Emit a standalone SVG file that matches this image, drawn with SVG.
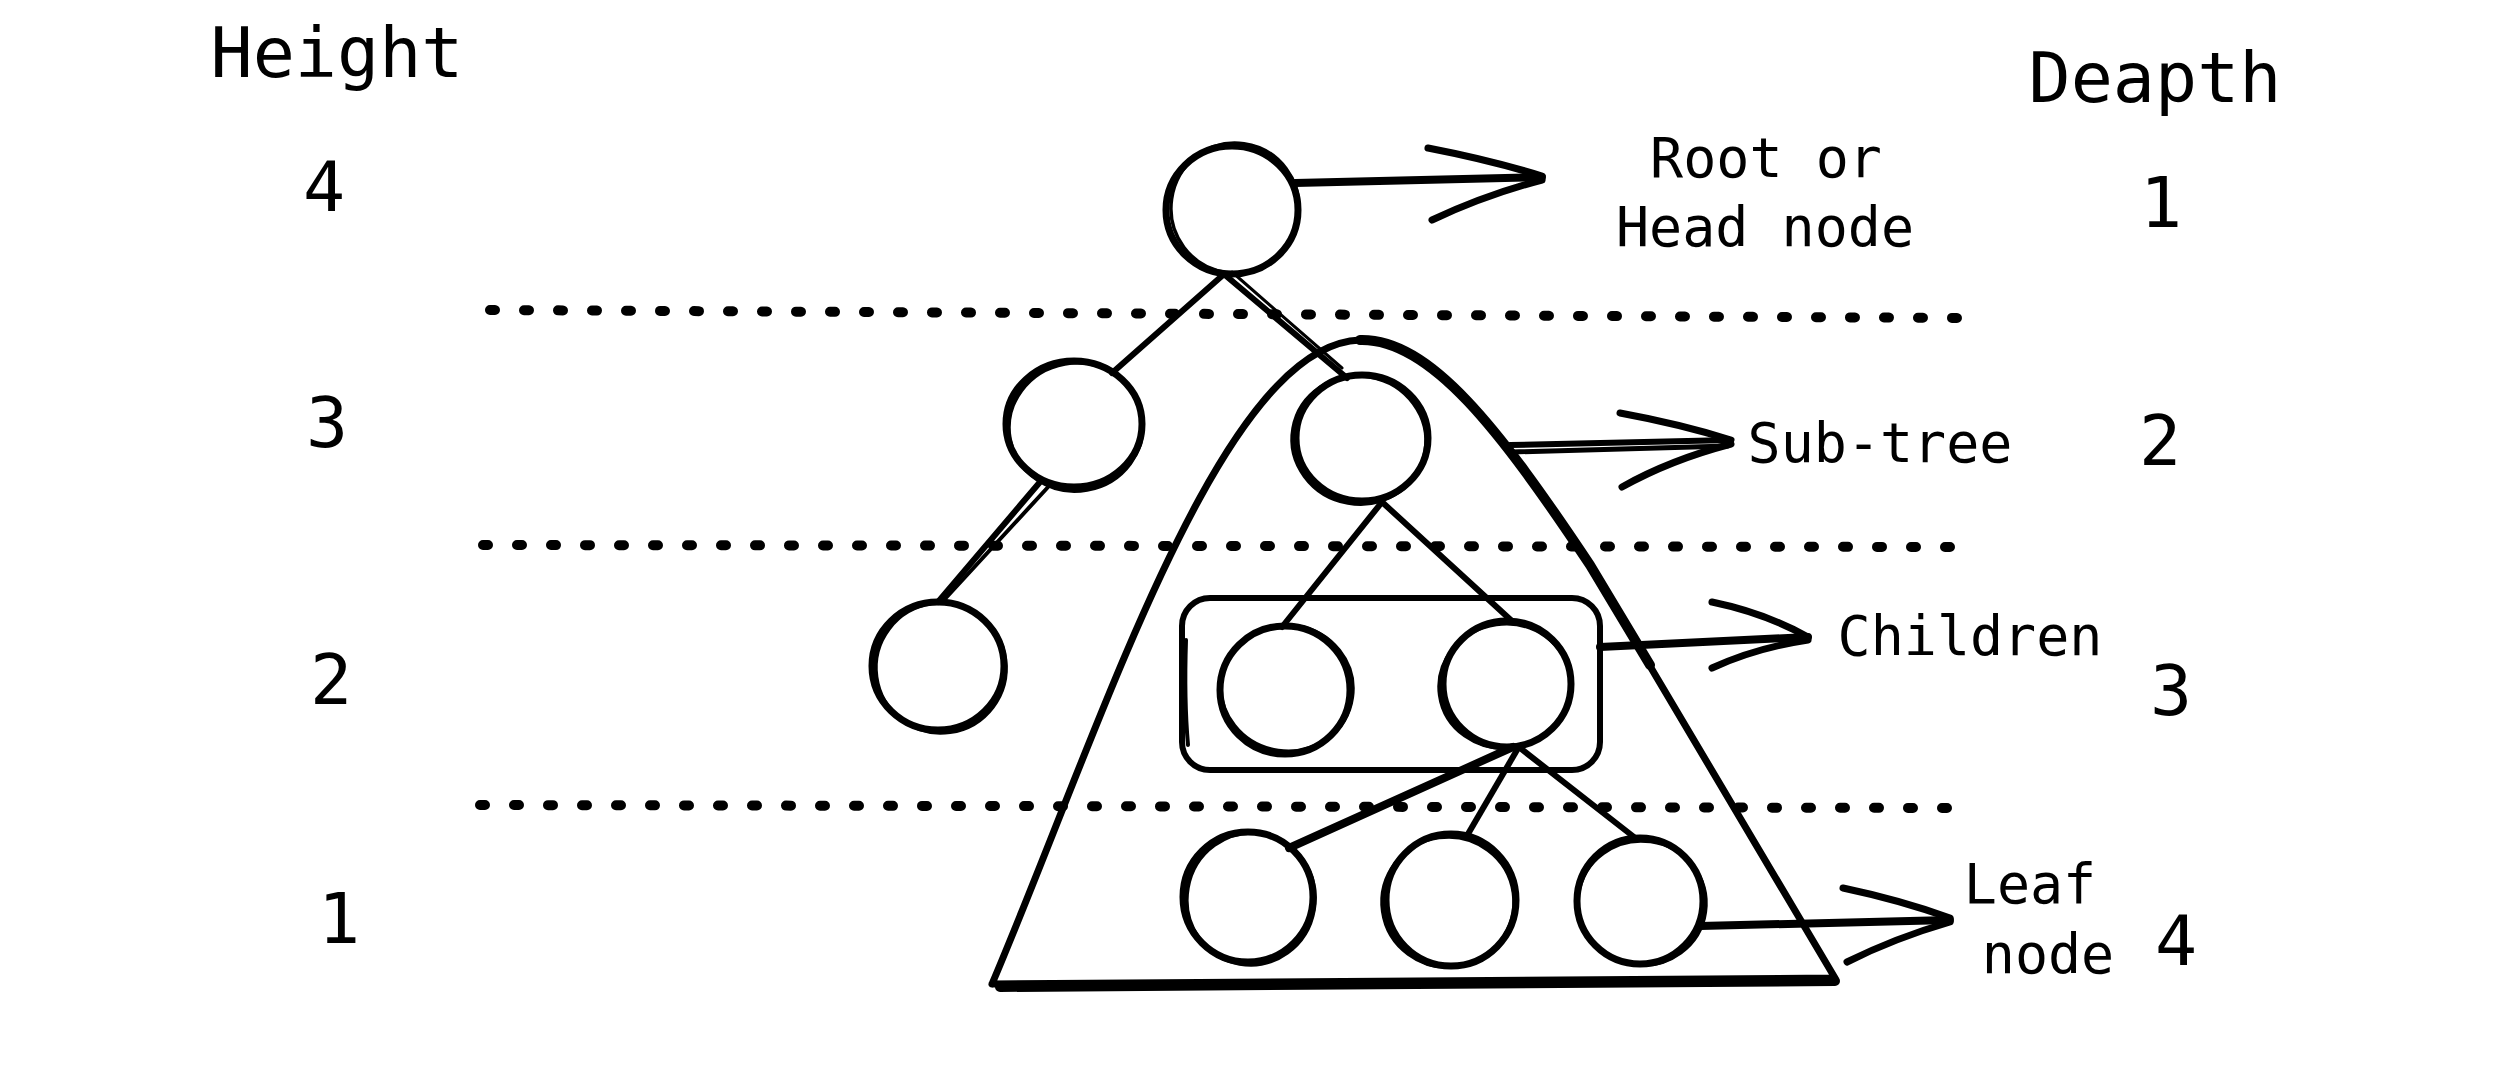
<svg xmlns="http://www.w3.org/2000/svg" width="2500" height="1070" viewBox="0 0 2500 1070">
<style>
.bg{fill:#fff}
.n{fill:none;stroke:#000;stroke-width:7}
.n2{fill:none;stroke:#000;stroke-width:3.5}
.e{fill:none;stroke:#000;stroke-width:6;stroke-linecap:round;stroke-linejoin:round}
.a{fill:none;stroke:#000;stroke-width:8;stroke-linecap:round;stroke-linejoin:round}
.dot{fill:none;stroke:#000;stroke-width:10;stroke-linecap:round;stroke-dasharray:5 29}
.t{font-family:"DejaVu Sans Mono",monospace;fill:#000;text-anchor:middle}
.big{font-size:70px}
.lbl{font-size:55px}
</style>
<rect class="bg" x="0" y="0" width="2500" height="1070"/>

<g id="level-lines">
<path class="dot" d="M490,310 L1965,318"/>
<path class="dot" d="M483,545 L1961,547"/>
<path class="dot" d="M480,805 L1955,808"/>
</g>

<g id="height-column">
<text class="t big" x="337" y="77">Height</text>
<text class="t big" x="324" y="211">4</text>
<text class="t big" x="327" y="447">3</text>
<text class="t big" x="331" y="704">2</text>
<text class="t big" x="339" y="943">1</text>
</g>

<g id="depth-column">
<text class="t big" x="2155" y="102">Deapth</text>
<text class="t big" x="2161" y="227">1</text>
<text class="t big" x="2160" y="465">2</text>
<text class="t big" x="2171" y="715">3</text>
<text class="t big" x="2176" y="965">4</text>
</g>

<g id="subtree">
<path class="e" style="stroke-width:7" d="M992,984 C1100,730 1220,345 1360,340 C1430,338 1500,430 1590,565 L1835,978 L992,984"/>
<path class="e" style="stroke-width:10" d="M1360,340 C1430,338 1500,430 1590,565 L1650,665"/>
<path class="e" style="stroke-width:10" d="M1000,987 L1835,981"/>
</g>

<g id="children-box">
<rect class="e" x="1182" y="598" width="418" height="172" rx="28"/>
<path class="e" style="stroke-width:4" d="M1186,640 Q1184,700 1188,745"/>
</g>

<g id="connectors">
<path class="e" d="M1223,275 L1112,373"/>
<path class="e" d="M1225,275 L1347,378"/>
<path class="e" style="stroke-width:3" d="M1232,272 L1342,368"/>
<path class="e" d="M1040,482 L938,602"/>
<path class="e" style="stroke-width:4" d="M1049,486 L944,600"/>
<path class="e" d="M1382,502 L1282,627"/>
<path class="e" d="M1382,502 L1513,622"/>
<path class="e" style="stroke-width:8" d="M1513,747 L1289,848"/>
<path class="e" d="M1517,750 L1468,834"/>
<path class="e" d="M1520,748 L1634,837"/>
<path class="a" d="M1295,183 L1542,177"/>
<path class="a" style="stroke-width:7" d="M1428,148 Q1490,160 1542,176"/>
<path class="a" style="stroke-width:7" d="M1432,220 Q1485,195 1542,180"/>
<path class="a" style="stroke-width:6" d="M1510,445 L1731,440"/>
<path class="a" style="stroke-width:5" d="M1512,452 L1728,446"/>
<path class="a" style="stroke-width:7" d="M1620,413 Q1680,424 1731,440"/>
<path class="a" style="stroke-width:7" d="M1622,487 Q1670,460 1731,444"/>
<path class="a" d="M1600,647 L1808,637"/>
<path class="a" style="stroke-width:7" d="M1712,602 Q1765,613 1808,637"/>
<path class="a" style="stroke-width:7" d="M1712,668 Q1755,648 1808,640"/>
<path class="a" d="M1700,926 L1950,920"/>
<path class="a" style="stroke-width:7" d="M1843,888 Q1900,900 1950,918"/>
<path class="a" style="stroke-width:7" d="M1847,962 Q1895,938 1950,922"/>
</g>

<g id="labels">
<text class="t lbl" x="1766" y="177">Root or</text>
<text class="t lbl" x="1765" y="246">Head node</text>
<text class="t lbl" x="1880" y="462">Sub-tree</text>
<text class="t lbl" x="1970" y="655">Children</text>
<text class="t lbl" x="2030" y="903">Leaf</text>
<text class="t lbl" x="2048" y="973">node</text>
</g>

<g id="node-root">
<ellipse class="n" cx="1232" cy="210" rx="66" ry="64"/>
<ellipse class="n2" cx="1235" cy="208" rx="64" ry="65" transform="rotate(8 1235 208)"/>
</g>
<g id="node-l2-left">
<ellipse class="n" cx="1074" cy="424" rx="68" ry="63"/>
<ellipse class="n2" cx="1076" cy="427" rx="67" ry="64" transform="rotate(-10 1076 427)"/>
</g>
<g id="node-l2-right">
<ellipse class="n" cx="1362" cy="438" rx="66" ry="63"/>
<ellipse class="n2" cx="1359" cy="440" rx="67" ry="64" transform="rotate(10 1359 440)"/>
</g>
<g id="node-l3-left">
<ellipse class="n" cx="938" cy="666" rx="66" ry="64"/>
<ellipse class="n2" cx="941" cy="668" rx="65" ry="65" transform="rotate(-8 941 668)"/>
</g>
<g id="node-child-left">
<ellipse class="n" cx="1285" cy="690" rx="65" ry="64"/>
<ellipse class="n2" cx="1287" cy="688" rx="66" ry="63" transform="rotate(8 1287 688)"/>
</g>
<g id="node-child-right">
<ellipse class="n" cx="1507" cy="684" rx="64" ry="63"/>
<ellipse class="n2" cx="1505" cy="686" rx="66" ry="62" transform="rotate(-8 1505 686)"/>
</g>
<g id="node-leaf-1">
<ellipse class="n" cx="1248" cy="897" rx="65" ry="65"/>
<ellipse class="n2" cx="1251" cy="899" rx="64" ry="66" transform="rotate(10 1251 899)"/>
</g>
<g id="node-leaf-2">
<ellipse class="n" cx="1451" cy="900" rx="65" ry="66"/>
<ellipse class="n2" cx="1448" cy="902" rx="66" ry="65" transform="rotate(-8 1448 902)"/>
</g>
<g id="node-leaf-3">
<ellipse class="n" cx="1640" cy="901" rx="63" ry="63"/>
<ellipse class="n2" cx="1642" cy="903" rx="64" ry="62" transform="rotate(8 1642 903)"/>
</g>
</svg>
